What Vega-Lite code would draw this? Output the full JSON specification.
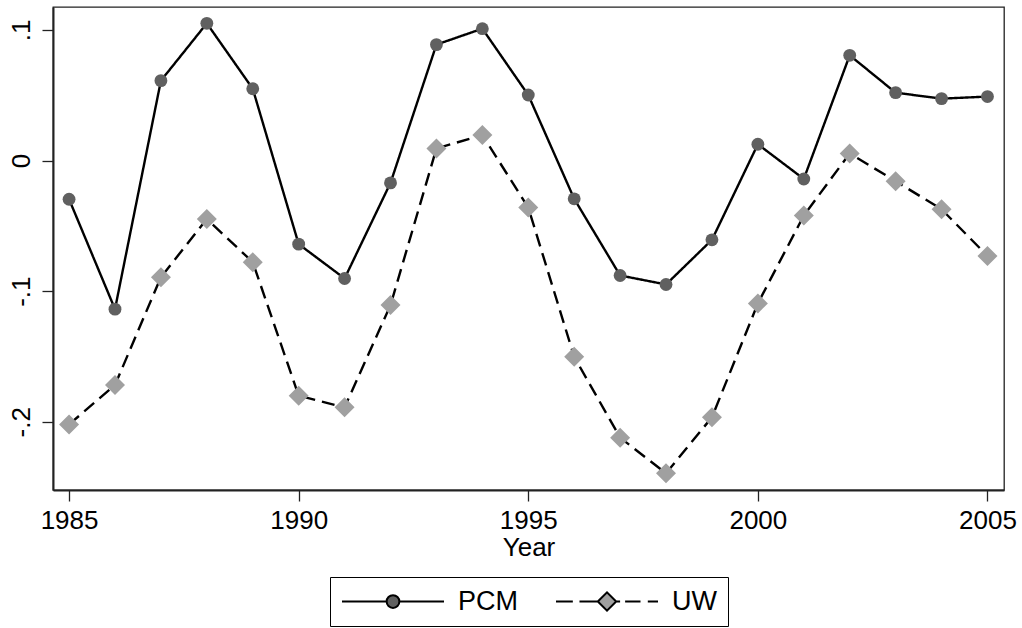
{
  "$schema": "https://vega.github.io/schema/vega-lite/v6.json",
  "width": 951,
  "height": 483,
  "autosize": {"type": "none"},
  "padding": {"left": 53, "top": 7, "right": 18, "bottom": 138},
  "background": "white",
  "config": {
    "font": "Liberation Sans",
    "view": {"stroke": "#222222", "strokeWidth": 1.3},
    "legend": {"layout": {"bottom": {"anchor": "middle"}}},
    "axis": {
      "grid": false,
      "labelColor": "black",
      "labelFontSize": 26,
      "tickColor": "#222222",
      "tickSize": 11,
      "tickWidth": 1.3,
      "domainColor": "#222222",
      "domainWidth": 2,
      "titleColor": "black",
      "titleFontWeight": "normal",
      "titleFontSize": 26
    }
  },
  "data": {
    "values": [
      {"year": 1985, "series": "PCM", "value": -0.0296},
      {"year": 1986, "series": "PCM", "value": -0.1138},
      {"year": 1987, "series": "PCM", "value": 0.0612},
      {"year": 1988, "series": "PCM", "value": 0.1051},
      {"year": 1989, "series": "PCM", "value": 0.0550},
      {"year": 1990, "series": "PCM", "value": -0.0640},
      {"year": 1991, "series": "PCM", "value": -0.0903},
      {"year": 1992, "series": "PCM", "value": -0.0171},
      {"year": 1993, "series": "PCM", "value": 0.0888},
      {"year": 1994, "series": "PCM", "value": 0.1010},
      {"year": 1995, "series": "PCM", "value": 0.0502},
      {"year": 1996, "series": "PCM", "value": -0.0293},
      {"year": 1997, "series": "PCM", "value": -0.0880},
      {"year": 1998, "series": "PCM", "value": -0.0949},
      {"year": 1999, "series": "PCM", "value": -0.0607},
      {"year": 2000, "series": "PCM", "value": 0.0125},
      {"year": 2001, "series": "PCM", "value": -0.0141},
      {"year": 2002, "series": "PCM", "value": 0.0806},
      {"year": 2003, "series": "PCM", "value": 0.0520},
      {"year": 2004, "series": "PCM", "value": 0.0474},
      {"year": 2005, "series": "PCM", "value": 0.0490},
      {"year": 1985, "series": "UW", "value": -0.2021},
      {"year": 1986, "series": "UW", "value": -0.1719},
      {"year": 1987, "series": "UW", "value": -0.0893},
      {"year": 1988, "series": "UW", "value": -0.0448},
      {"year": 1989, "series": "UW", "value": -0.0778},
      {"year": 1990, "series": "UW", "value": -0.1801},
      {"year": 1991, "series": "UW", "value": -0.1890},
      {"year": 1992, "series": "UW", "value": -0.1107},
      {"year": 1993, "series": "UW", "value": 0.0092},
      {"year": 1994, "series": "UW", "value": 0.0196},
      {"year": 1995, "series": "UW", "value": -0.0360},
      {"year": 1996, "series": "UW", "value": -0.1503},
      {"year": 1997, "series": "UW", "value": -0.2122},
      {"year": 1998, "series": "UW", "value": -0.2395},
      {"year": 1999, "series": "UW", "value": -0.1966},
      {"year": 2000, "series": "UW", "value": -0.1094},
      {"year": 2001, "series": "UW", "value": -0.0421},
      {"year": 2002, "series": "UW", "value": 0.0054},
      {"year": 2003, "series": "UW", "value": -0.0158},
      {"year": 2004, "series": "UW", "value": -0.0373},
      {"year": 2005, "series": "UW", "value": -0.0730}
    ]
  },
  "encoding": {
    "x": {
      "field": "year",
      "type": "quantitative",
      "scale": {"domain": [1984.65, 2005.36], "nice": false, "zero": false},
      "axis": {
        "values": [1985, 1990, 1995, 2000, 2005],
        "format": "d",
        "title": "Year",
        "titlePadding": 1,
        "labelPadding": 6,
        "labelFlush": false
      }
    },
    "y": {
      "field": "value",
      "type": "quantitative",
      "scale": {"domain": [-0.2523, 0.1176], "nice": false, "zero": false},
      "axis": {
        "values": [-0.2, -0.1, 0, 0.1],
        "labelExpr": "datum.value == 0 ? '0' : (datum.value < 0 ? '-' : '') + '.' + format(abs(datum.value) * 10, '.0f')",
        "labelAngle": -90,
        "labelPadding": 8,
        "title": null
      }
    }
  },
  "layer": [
    {
      "mark": {"type": "point", "filled": true, "opacity": 0},
      "encoding": {
        "shape": {
          "field": "series",
          "type": "nominal",
          "scale": {
            "domain": ["PCM", "UW"],
            "range": [
              "M-1,0H-0.125M0.125,0H1M0.125,0C0.125,0.069,0.069,0.125,0,0.125C-0.069,0.125,-0.125,0.069,-0.125,0C-0.125,-0.069,-0.069,-0.125,0,-0.125C0.069,-0.125,0.125,-0.069,0.125,0Z",
              "M-1,0H-0.67M-0.54,0H-0.18M0.18,0H0.257M0.355,0H0.657M0.8,0H1M-0.18,0L0,-0.18L0.18,0L0,0.18Z"
            ]
          },
          "legend": {"title": null}
        },
        "color": {
          "field": "series",
          "type": "nominal",
          "scale": {"domain": ["PCM", "UW"], "range": ["#606060", "#a0a0a0"]},
          "legend": {
            "title": null,
            "orient": "bottom",
            "direction": "horizontal",
            "symbolSize": 10404,
            "symbolStrokeWidth": 2,
            "symbolStrokeColor": "black",
            "symbolOpacity": 1,
            "clipHeight": 27,
            "labelFontSize": 27,
            "labelColor": "black",
            "labelOffset": 13,
            "columnPadding": 37,
            "padding": 11,
            "strokeColor": "black",
            "offset": 17,
            "symbolOffset": 0,
            "encoding": {
              "symbols": {
                "stroke": {"value": "black"},
                "strokeWidth": {"value": 2},
                "opacity": {"value": 1}
              }
            }
          }
        }
      }
    },
    {
      "mark": {"type": "line", "color": "black", "strokeWidth": 2.4},
      "encoding": {
        "detail": {"field": "series", "type": "nominal"},
        "strokeDash": {
          "condition": {"test": "datum.series === 'UW'", "value": [13, 7]},
          "value": [1, 0]
        }
      }
    },
    {
      "mark": {"type": "point", "filled": true, "opacity": 1},
      "encoding": {
        "shape": {
          "condition": {"test": "datum.series === 'PCM'", "value": "circle"},
          "value": "diamond"
        },
        "size": {
          "condition": {"test": "datum.series === 'PCM'", "value": 165},
          "value": 400
        },
        "color": {
          "condition": {"test": "datum.series === 'PCM'", "value": "#606060"},
          "value": "#a0a0a0"
        }
      }
    }
  ]
}
